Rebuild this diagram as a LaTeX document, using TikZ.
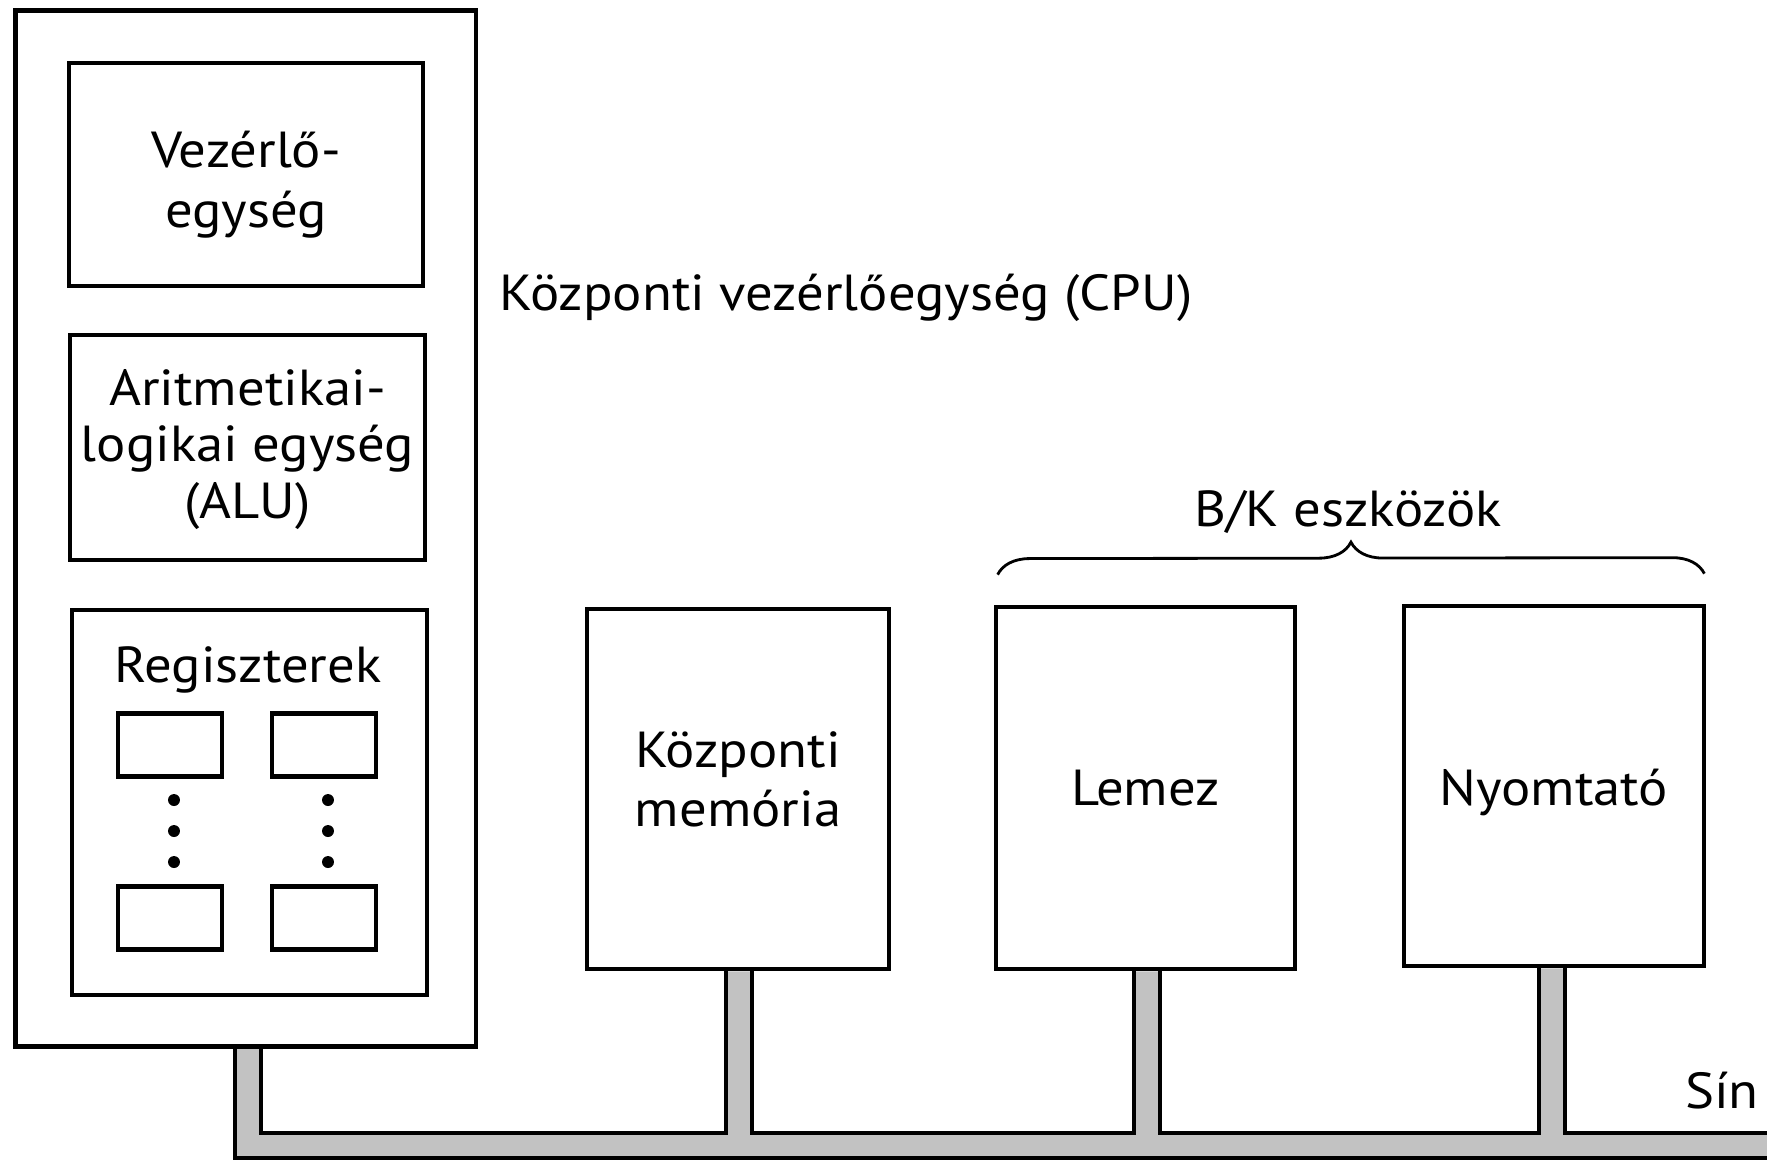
\documentclass[tikz,border=0pt]{standalone}
\usepackage{fontspec}
\setmainfont{PT Sans}[FakeStretch=1.08]
\usetikzlibrary{calc,decorations.pathreplacing}
\pgfdeclarelayer{buslayer}
\pgfsetlayers{buslayer,main}
\newcommand\lblfont{\fontsize{14.4}{16.5}\selectfont}
\definecolor{busgray}{gray}{0.76}

\begin{document}
\begin{tikzpicture}[x=0.01cm,y=-0.01cm,
  box/.style={draw,line width=1.3pt,fill=white,inner sep=0pt},
  regbox/.style={draw,line width=1.25pt,fill=white,inner sep=0pt,minimum width=1.04cm,minimum height=0.63cm},
  lbl/.style={inner sep=0pt,font=\lblfont,anchor=base},
  busline/.style={line width=1.3pt,line join=miter},
  dotmark/.style={fill=black}]
\useasboundingbox (0,0) rectangle (1767,1159);

% CPU with its parts
\node[box,minimum width=4.605cm,minimum height=10.35cm] (cpu) at (245.75,528.5) {};
\node[box,minimum width=3.54cm,minimum height=2.23cm] (ctrl) at (246,174.5) {};
\node[lbl] (ctrlA) at (ctrl.center |- 0,167) {Vezérlő-};
\node[lbl] (ctrlB) at (ctrl.center |- 0,227) {egység};
\node[box,minimum width=3.55cm,minimum height=2.25cm] (alu) at (247.5,447.5) {};
\node[lbl] (aluA) at (alu.center |- 0,405) {Aritmetikai-};
\node[lbl] (aluB) at (alu.center |- 0,461) {logikai egység};
\node[lbl] (aluC) at (alu.center |- 0,518) {(ALU)};
\node[box,minimum width=3.55cm,minimum height=3.85cm] (regs) at (249.5,802.5) {};
\node[lbl] (regtitle) at (248,682) {Regiszterek};
\node[regbox] (r1) at (170,745) {};
\node[regbox] (r2) at (324,745) {};
\node[regbox] (r3) at (170,918) {};
\node[regbox] (r4) at (324,918) {};
\foreach \yy in {800,831,862}{
  \fill[dotmark] (174,\yy) circle[radius=1.7pt];
  \fill[dotmark] (328,\yy) circle[radius=1.7pt];
}
\node[lbl,anchor=base west] (cpulabel) at (499,310) {Központi vezérlőegység (CPU)};

% memory and I/O devices
\node[box,minimum width=3.02cm,minimum height=3.6cm] (mem) at (738,789) {};
\node[lbl] (memA) at (mem.center |- 0,767) {Központi};
\node[lbl] (memB) at (mem.center |- 0,826) {memória};
\node[box,minimum width=2.99cm,minimum height=3.62cm] (disk) at (1145.5,788) {};
\node[lbl] (diskA) at (disk.center |- 0,805) {Lemez};
\node[box,minimum width=3.0cm,minimum height=3.6cm] (prn) at (1554,786) {};
\node[lbl] (prnA) at (prn.center |- 0,805) {Nyomtató};

\draw[decorate,decoration={brace,amplitude=0.32cm},line width=0.8pt]
  ($(disk.north west)+(4,-30)$) -- ($(prn.north east)+(-2,-30)$);
\node[lbl] (iolabel) at (1348,526) {B/K eszközök};

% the bus
\begin{pgfonlayer}{buslayer}
\fill[busgray] (235,0 |- cpu.south) -- (261,0 |- cpu.south) -- (261,1133) -- (726,1133)
  -- (726,0 |- mem.south) -- (752,0 |- mem.south) -- (752,1133) -- (1134,1133)
  -- (1134,0 |- disk.south) -- (1160,0 |- disk.south) -- (1160,1133) -- (1539,1133)
  -- (1539,0 |- prn.south) -- (1565,0 |- prn.south) -- (1565,1133) -- (1790,1133)
  -- (1790,1158) -- (235,1158) -- cycle;
\draw[busline] (235,0 |- cpu.south) -- (235,1158) -- (1790,1158);
\draw[busline] (261,0 |- cpu.south) -- (261,1133) -- (726,1133) -- (726,0 |- mem.south);
\draw[busline] (752,0 |- mem.south) -- (752,1133) -- (1134,1133) -- (1134,0 |- disk.south);
\draw[busline] (1160,0 |- disk.south) -- (1160,1133) -- (1539,1133) -- (1539,0 |- prn.south);
\draw[busline] (1565,0 |- prn.south) -- (1565,1133) -- (1790,1133);
\end{pgfonlayer}
\node[lbl] (buslabel) at (1722,1108) {Sín};
\end{tikzpicture}
\end{document}
